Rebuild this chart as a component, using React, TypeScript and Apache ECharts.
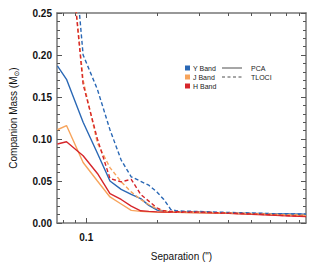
import React, { useEffect, useRef } from "react";
import * as echarts from "echarts";

// Separation (arcsec) sample points
const separations = [0.0755, 0.0825, 0.097, 0.1115, 0.126, 0.1405, 0.155, 0.17, 0.184, 0.199, 0.213, 0.228, 0.242, 0.257, 0.3, 0.4, 0.5, 0.6, 0.7, 0.85];

// Companion mass (Msun) curves
const yPCA = [0.187, 0.171, 0.12, 0.083, 0.05, 0.04, 0.034, 0.029, 0.021, 0.0155, 0.0138, 0.0135, 0.0133, 0.0132, 0.013, 0.012, 0.0115, 0.011, 0.0108, 0.0105];
const jPCA = [0.111, 0.116, 0.072, 0.05, 0.031, 0.0226, 0.015, 0.0138, 0.0133, 0.013, 0.0128, 0.0127, 0.0126, 0.0125, 0.0122, 0.0115, 0.011, 0.0102, 0.0095, 0.009];
const hPCA = [0.094, 0.0967, 0.08, 0.059, 0.035, 0.028, 0.02, 0.0145, 0.0138, 0.0133, 0.013, 0.0128, 0.0127, 0.0126, 0.0125, 0.0115, 0.0105, 0.0095, 0.0085, 0.0076];
const yTLOCI = [null, 0.425, 0.2, 0.159, 0.111, 0.075, 0.055, 0.0496, 0.045, 0.037, 0.028, 0.016, 0.0145, 0.014, 0.0138, 0.0125, 0.012, 0.0112, 0.011, 0.0106];
const jTLOCI = [null, 0.37, 0.17, 0.095, 0.066, 0.049, 0.037, 0.028, 0.022, 0.017, 0.014, 0.0135, 0.0133, 0.013, 0.0128, 0.012, 0.0112, 0.0105, 0.0098, 0.0092];
const hTLOCI = [null, 0.37, 0.165, 0.1, 0.053, 0.049, 0.052, 0.034, 0.026, 0.018, 0.0145, 0.0138, 0.0135, 0.0133, 0.013, 0.0118, 0.0108, 0.0098, 0.0088, 0.0078];

// Axis ticks / labels
const xMin = 0.0752;
const xMax = 0.851;
const xMajorTicks = [0.1];
const xMinorTicks = [0.08, 0.09, 0.2, 0.3, 0.4, 0.5, 0.6, 0.7, 0.8];
const xLabels = [0.1];

const bandNames = ["Y Band", "J Band", "H Band"];
const methodNames = ["PCA", "TLOCI"];

const BLUE = "#2a68b5";
const ORANGE = "#f7a45c";
const RED = "#d6262b";
const FONT = "'Liberation Sans', 'DejaVu Sans', Arial, sans-serif";
const AXIS_COLOR = "#777777";

const L = Math.log10;

function mk(vals: (number | null)[]) {
  return separations.map((s, i) => [L(s), vals[i]]);
}

export default function App() {
  const ref = useRef<HTMLDivElement>(null);
  useEffect(() => {
    if (!ref.current) return;
    const chart = echarts.init(ref.current, null, { renderer: "svg" });

    const xBase = (position: string, ticks: number[], len: number, showLine: boolean, showLabel: boolean) => ({
      type: "value",
      position,
      min: L(xMin),
      max: L(xMax),
      axisLine: { show: showLine, lineStyle: { color: AXIS_COLOR, width: 1.5 } },
      axisTick: {
        show: true,
        inside: true,
        length: len,
        customValues: ticks.map(L),
        lineStyle: { color: "#555", width: 1 },
      },
      axisLabel: showLabel
        ? {
            show: true,
            customValues: xLabels.map(L),
            formatter: (v: number) => Math.pow(10, v).toFixed(1),
            fontSize: 10,
            fontWeight: "bold",
            color: "#111",
            fontFamily: FONT,
            margin: 9,
          }
        : { show: false },
      splitLine: { show: false },
    });

    const yBase = (position: string, showLabel: boolean) => ({
      type: "value",
      position,
      min: 0,
      max: 0.25,
      interval: 0.05,
      axisLine: { show: true, lineStyle: { color: AXIS_COLOR, width: 1.5 } },
      axisTick: { show: true, inside: true, length: 5, lineStyle: { color: "#555", width: 1 } },
      minorTick: { show: true, splitNumber: 5, length: 3, lineStyle: { color: "#555", width: 1 } },
      axisLabel: showLabel
        ? {
            show: true,
            formatter: (v: number) => v.toFixed(2),
            fontSize: 10,
            fontWeight: "bold",
            color: "#111",
            fontFamily: FONT,
            margin: 5,
          }
        : { show: false },
      splitLine: { show: false },
    });

    const xAxes: any[] = [
      { ...xBase("bottom", xMinorTicks, 3, true, true), name: 'Separation (")', nameLocation: "middle", nameGap: 28, nameTextStyle: { fontSize: 10, color: "#111", fontFamily: FONT } },
      xBase("bottom", xMajorTicks, 5, false, false),
      xBase("top", xMinorTicks, 3, true, false),
      xBase("top", xMajorTicks, 5, false, false),
    ];

    const yAxes: any[] = [
      {
        ...yBase("left", true),
        name: "{a|Companion Mass (M}{s|⊙}{a|)}",
        nameLocation: "middle",
        nameGap: 37,
        nameTextStyle: {
          fontFamily: FONT,
          color: "#111",
          rich: {
            a: { fontSize: 10, fontFamily: FONT, color: "#111", lineHeight: 14, verticalAlign: "middle" },
            s: { fontSize: 7, fontFamily: FONT, color: "#111", lineHeight: 14, verticalAlign: "bottom" },
          },
        },
      },
      yBase("right", false),
    ];

    const line = (name: string, vals: (number | null)[], color: string, dashed: boolean) => ({
      name,
      type: "line",
      xAxisIndex: 0,
      yAxisIndex: 0,
      data: mk(vals),
      showSymbol: false,
      symbol: "none",
      clip: true,
      connectNulls: false,
      lineStyle: { color, width: 1.4, type: dashed ? [4, 2.5] : "solid" },
      z: dashed ? 3 : 2,
    });

    const legendColors = [BLUE, ORANGE, RED];
    const rowY = [68, 77, 86];
    const graphics: any[] = [];
    bandNames.forEach((n, i) => {
      graphics.push({ type: "rect", shape: { x: 185, y: rowY[i] - 2.5, width: 5, height: 5 }, style: { fill: legendColors[i] } });
      graphics.push({ type: "text", x: 193, y: rowY[i], style: { text: n, fontSize: 7, fontFamily: FONT, fill: "#222", verticalAlign: "middle" } });
    });
    methodNames.forEach((n, i) => {
      graphics.push({
        type: "line",
        shape: { x1: 222, y1: rowY[i], x2: 242, y2: rowY[i] },
        style: { stroke: "#222", lineWidth: 0.8, lineDash: i === 1 ? [3, 2.5] : null },
      });
      graphics.push({ type: "text", x: 251, y: rowY[i], style: { text: n, fontSize: 7, fontFamily: FONT, fill: "#222", verticalAlign: "middle" } });
    });

    chart.setOption({
      animation: false,
      backgroundColor: "#ffffff",
      grid: { left: 50, right: 26, top: 13, bottom: 40.5, containLabel: false },
      xAxis: xAxes,
      yAxis: yAxes,
      series: [
        line("Y PCA", yPCA, BLUE, false),
        line("J PCA", jPCA, ORANGE, false),
        line("H PCA", hPCA, RED, false),
        line("Y TLOCI", yTLOCI, BLUE, true),
        line("J TLOCI", jTLOCI, ORANGE, true),
        line("H TLOCI", hTLOCI, RED, true),
      ],
      graphic: graphics,
    });
    return () => chart.dispose();
  }, []);
  return <div ref={ref} style={{ position: "fixed", left: 0, top: 0, width: 332, height: 266, background: "#fff" }} />;
}
